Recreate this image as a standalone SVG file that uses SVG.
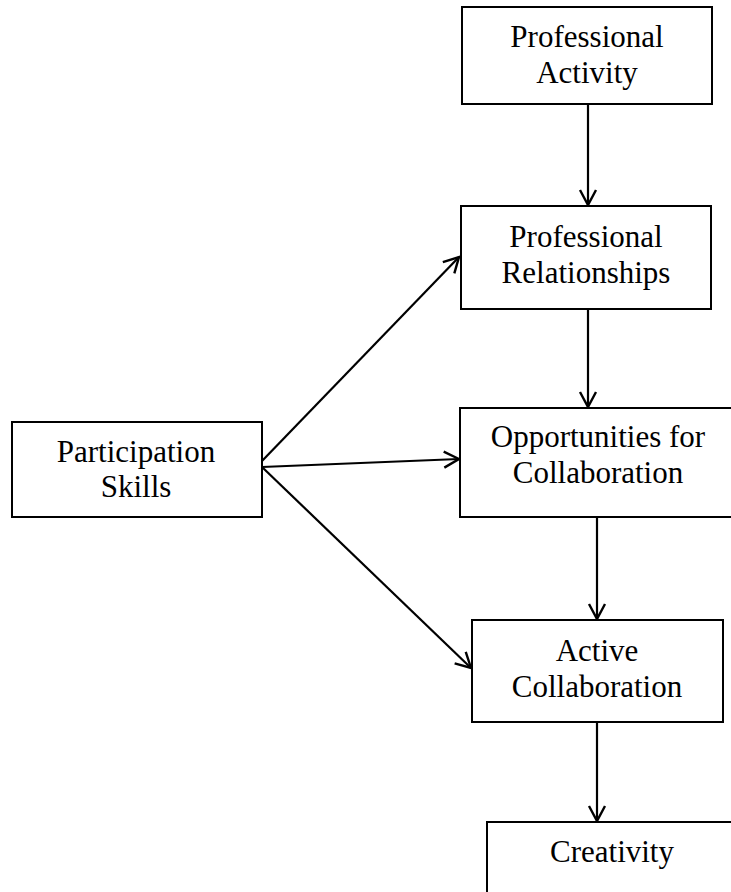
<svg xmlns="http://www.w3.org/2000/svg" width="731" height="892" viewBox="0 0 731 892">
  <style>
    .box { fill: #ffffff; stroke: #000000; stroke-width: 2; }
    .lbl { font-family: "Liberation Serif", "Times New Roman", serif; font-size: 31px; fill: #000000; text-anchor: middle; }
    .edge { fill: none; stroke: #000000; stroke-width: 2.2; marker-end: url(#open); }
  </style>
  <defs>
    <marker id="open" viewBox="0 0 20 20" refX="18" refY="10" markerWidth="20" markerHeight="20" markerUnits="userSpaceOnUse" orient="auto">
      <path d="M3,2 L18,10 L3,18" fill="none" stroke="#000000" stroke-width="2.4"/>
    </marker>
  </defs>
  <rect x="0" y="0" width="731" height="892" fill="#ffffff"/>

  <g id="connectors">
    <line class="edge" x1="588" y1="104" x2="588" y2="205"/>
    <line class="edge" x1="588" y1="309" x2="588" y2="407"/>
    <line class="edge" x1="597" y1="517" x2="597" y2="619"/>
    <line class="edge" x1="597" y1="722" x2="597" y2="821"/>
    <line class="edge" x1="262" y1="461" x2="459" y2="257"/>
    <line class="edge" x1="262" y1="467" x2="459" y2="459"/>
    <line class="edge" x1="262" y1="467" x2="471" y2="668"/>
  </g>

  <g id="professional-activity">
    <rect class="box" x="462" y="7" width="250" height="97"/>
    <text class="lbl" x="587" y="47">Professional</text>
    <text class="lbl" x="587" y="83">Activity</text>
  </g>

  <g id="professional-relationships">
    <rect class="box" x="461" y="206" width="250" height="103"/>
    <text class="lbl" x="586" y="247">Professional</text>
    <text class="lbl" x="586" y="283">Relationships</text>
  </g>

  <g id="opportunities-for-collaboration">
    <rect class="box" x="460" y="408" width="290" height="109"/>
    <text class="lbl" x="598" y="447">Opportunities for</text>
    <text class="lbl" x="598" y="483">Collaboration</text>
  </g>

  <g id="participation-skills">
    <rect class="box" x="12" y="422" width="250" height="95"/>
    <text class="lbl" x="136" y="462">Participation</text>
    <text class="lbl" x="136" y="497">Skills</text>
  </g>

  <g id="active-collaboration">
    <rect class="box" x="472" y="620" width="251" height="102"/>
    <text class="lbl" x="597" y="661">Active</text>
    <text class="lbl" x="597" y="697">Collaboration</text>
  </g>

  <g id="creativity">
    <rect class="box" x="487" y="822" width="270" height="100"/>
    <text class="lbl" x="612" y="862">Creativity</text>
  </g>
</svg>
